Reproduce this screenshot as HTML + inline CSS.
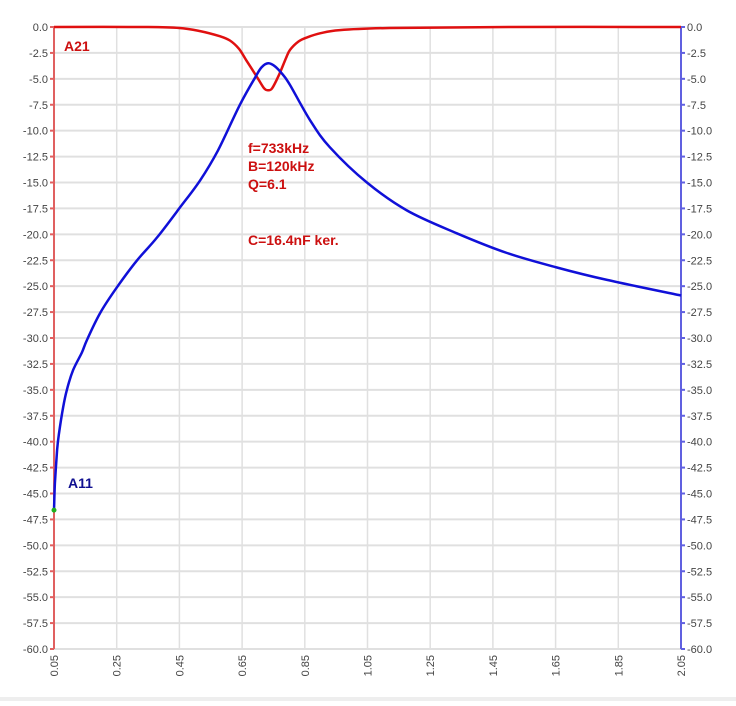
<!DOCTYPE html>
<html><head><meta charset="utf-8"><style>
body{margin:0;background:#fff;width:736px;height:701px;overflow:hidden;font-family:"Liberation Sans",sans-serif}
</style></head><body>
<svg id="c" width="736" height="701"></svg>
<script>
const ticksY=[0,-2.5,-5,-7.5,-10,-12.5,-15,-17.5,-20,-22.5,-25,-27.5,-30,-32.5,-35,-37.5,-40,-42.5,-45,-47.5,-50,-52.5,-55,-57.5,-60];
const ticksX=[0.05,0.25,0.45,0.65,0.85,1.05,1.25,1.45,1.65,1.85,2.05];
const a11F=[0.050,0.053,0.060,0.066,0.079,0.091,0.111,0.139,0.155,0.197,0.251,0.315,0.379,0.452,0.516,0.573,0.643,0.691,0.712,0.733,0.755,0.780,0.803,0.867,0.930,1.048,1.176,1.335,1.495,1.654,1.814,2.050];
const a11V=[-46.6,-44.0,-40.8,-39.2,-36.7,-35.0,-33.1,-31.4,-30.2,-27.6,-25.1,-22.5,-20.3,-17.4,-14.8,-11.9,-7.5,-4.9,-3.9,-3.5,-3.8,-4.6,-5.6,-9.0,-11.6,-15.0,-17.7,-19.9,-21.8,-23.2,-24.4,-25.9];
const a21F=[0.05,0.35,0.45,0.516,0.58,0.611,0.64,0.663,0.697,0.72,0.733,0.746,0.768,0.79,0.803,0.83,0.857,0.9,0.962,1.12,1.5,2.05];
const a21V=[0,0,-0.1,-0.4,-0.9,-1.3,-2.1,-3.2,-4.8,-5.9,-6.1,-5.9,-4.6,-3.0,-2.2,-1.4,-1.0,-0.6,-0.3,-0.1,0,0];
const L=54,R=681,T=27,B=649;
const sx=f=>L+(f-0.05)/2.0*(R-L);
const sy=v=>T+(-v)/60*(B-T);
const NS="http://www.w3.org/2000/svg",svg=document.getElementById('c');
function mk(t,a,p){const e=document.createElementNS(NS,t);for(const k in a)e.setAttribute(k,a[k]);(p||svg).appendChild(e);return e;}
const strip=mk('rect',{x:0,y:697,width:736,height:4,fill:'#eeeeee'});


ticksY.forEach(v=>{
 const g=mk('line',{x1:L,x2:R,y1:sy(v),y2:sy(v),stroke:'#e0e0e0','stroke-width':2});
 
 
 const t1=mk('text',{x:L-6,y:sy(v)+4,'text-anchor':'end','font-size':11,fill:'#444'});
 t1.textContent=v.toFixed(1);
 
 
 const t2=mk('text',{x:R+6,y:sy(v)+4,'font-size':11,fill:'#444'});
 t2.textContent=v.toFixed(1);
 
 
 mk('line',{x1:L-4,x2:L,y1:sy(v),y2:sy(v),stroke:'#e06060','stroke-width':2});
 mk('line',{x1:R,x2:R+4,y1:sy(v),y2:sy(v),stroke:'#6060e0','stroke-width':2});
});
ticksX.forEach(f=>{
 const g=mk('line',{x1:sx(f),x2:sx(f),y1:T,y2:B,stroke:'#e0e0e0','stroke-width':1.5});
 
 
 const t=mk('text',{x:0,y:0,'text-anchor':'end','font-size':11,fill:'#444',transform:`translate(${sx(f)+4},${B+6}) rotate(-90)`});
 t.textContent=f.toFixed(2);
 
 
});
const la=mk('line',{x1:L,x2:L,y1:T,y2:B,stroke:'#e06060','stroke-width':2});


const ra=mk('line',{x1:R,x2:R,y1:T,y2:B,stroke:'#6060e0','stroke-width':2});


function path(F,V){
 const P=F.map((f,i)=>[sx(f),sy(V[i])]);
 let d='M'+P[0][0].toFixed(1)+','+P[0][1].toFixed(1);
 for(let i=0;i<P.length-1;i++){
  const p0=P[Math.max(i-1,0)],p1=P[i],p2=P[i+1],p3=P[Math.min(i+2,P.length-1)];
  const c1=[p1[0]+(p2[0]-p0[0])/6,p1[1]+(p2[1]-p0[1])/6];
  const c2=[p2[0]-(p3[0]-p1[0])/6,p2[1]-(p3[1]-p1[1])/6];
  d+='C'+c1[0].toFixed(1)+','+c1[1].toFixed(1)+' '+c2[0].toFixed(1)+','+c2[1].toFixed(1)+' '+p2[0].toFixed(1)+','+p2[1].toFixed(1);
 }
 return d;
}
const p21=mk('path',{d:path(a21F,a21V),fill:'none',stroke:'#e01010','stroke-width':2.5,'stroke-linejoin':'round'});


const p11=mk('path',{d:path(a11F,a11V),fill:'none',stroke:'#1010d8','stroke-width':2.5,'stroke-linejoin':'round'});


const dot=mk('circle',{cx:sx(a11F[0]),cy:sy(a11V[0]),r:2.5,fill:'#20b020'});


function txt(x,y,s,c,n){const t=mk('text',{x:x,y:y,'font-size':14,'font-weight':'bold',fill:c});t.textContent=s;}
txt(64,51,'A21','#cc1010','a21-label');
txt(68,488,'A11','#101090','a11-label');
txt(248,153,'f=733kHz','#cc1010','annotation-f');
txt(248,171,'B=120kHz','#cc1010','annotation-b');
txt(248,189,'Q=6.1','#cc1010','annotation-q');
txt(248,245,'C=16.4nF ker.','#cc1010','annotation-c');
</script>
</body></html>
